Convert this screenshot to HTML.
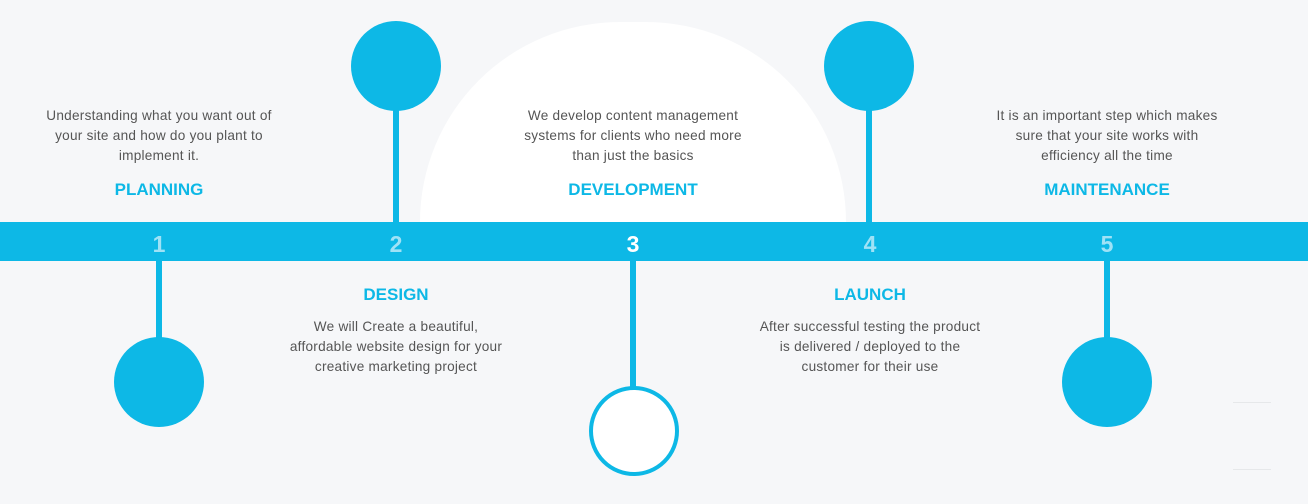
<!DOCTYPE html>
<html><head><style>
body{margin:0;width:1308px;height:504px;background:#f6f7f9;position:relative;overflow:hidden;font-family:"Liberation Sans",sans-serif}
.a{position:absolute}
.dome{left:420px;top:22px;width:426px;height:200px;background:#fff;border-radius:213px 213px 0 0}
.bar{left:0;top:222px;width:1308px;height:39px;background:#0db8e6}
.n{top:231px;width:40px;text-align:center;font-weight:bold;font-size:23px;color:#9fe2f6}
.c{width:90px;height:90px;border-radius:50%;background:#0db8e6}
.l{width:6px;background:#0db8e6}
.t{width:250px;text-align:center;font-size:13.6px;letter-spacing:0.25px;line-height:20px;color:#555;white-space:nowrap}
.h{width:250px;text-align:center;font-size:17px;font-weight:bold;color:#0db8e6}
</style></head><body>
<div class="a dome"></div>
<div class="a l" style="left:393px;top:100px;height:124px"></div>
<div class="a l" style="left:866px;top:100px;height:124px"></div>
<div class="a l" style="left:156px;top:258px;height:84px"></div>
<div class="a l" style="left:630px;top:258px;height:130px"></div>
<div class="a l" style="left:1104px;top:258px;height:84px"></div>
<div class="a bar"></div>
<div class="a c" style="left:351px;top:21px"></div>
<div class="a c" style="left:824px;top:21px"></div>
<div class="a c" style="left:114px;top:337px"></div>
<div class="a c" style="left:1062px;top:337px"></div>
<div class="a" style="left:589px;top:386px;width:82px;height:82px;border:4px solid #0db8e6;border-radius:50%;background:#fff"></div>
<div class="a n" style="left:139px">1</div>
<div class="a n" style="left:376px">2</div>
<div class="a n" style="left:613px;color:#fff">3</div>
<div class="a n" style="left:850px">4</div>
<div class="a n" style="left:1087px">5</div>
<div class="a t" style="left:34px;top:106px">Understanding what you want out of<br>your site and how do you plant to<br>implement it.</div>
<div class="a h" style="left:34px;top:180px">PLANNING</div>
<div class="a t" style="left:508px;top:106px">We develop content management<br>systems for clients who need more<br>than just the basics</div>
<div class="a h" style="left:508px;top:180px">DEVELOPMENT</div>
<div class="a t" style="left:982px;top:106px">It is an important step which makes<br>sure that your site works with<br>efficiency all the time</div>
<div class="a h" style="left:982px;top:180px">MAINTENANCE</div>
<div class="a h" style="left:271px;top:285px">DESIGN</div>
<div class="a t" style="left:271px;top:317px">We will Create a beautiful,<br>affordable website design for your<br>creative marketing project</div>
<div class="a h" style="left:745px;top:285px">LAUNCH</div>
<div class="a t" style="left:745px;top:317px">After successful testing the product<br>is delivered / deployed to the<br>customer for their use</div>
<div class="a" style="left:1233px;top:402px;width:38px;height:1px;background:#e6e8ea"></div>
<div class="a" style="left:1233px;top:469px;width:38px;height:1px;background:#e6e8ea"></div>
</body></html>
